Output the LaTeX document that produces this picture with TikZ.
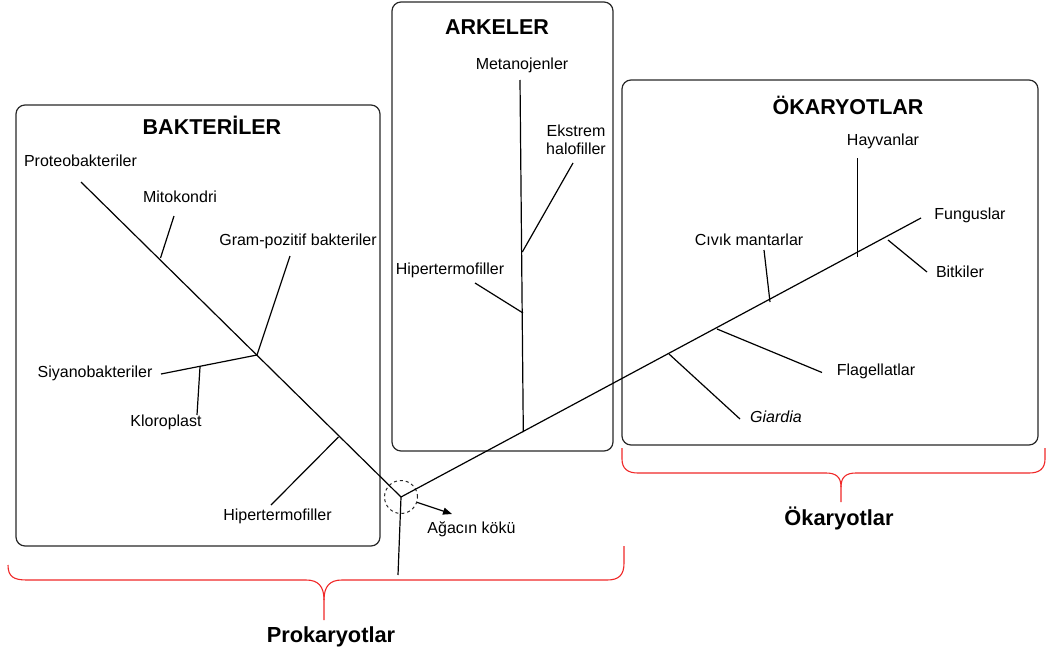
\documentclass[tikz,border=0pt]{standalone}
\usepackage{fontspec}
\setmainfont{Liberation Sans}
\usetikzlibrary{arrows.meta}
\begin{document}
\begin{tikzpicture}[x=1pt,y=-1pt,
  box/.style={draw={rgb,255:red,40;green,40;blue,40}, line width=1.2pt, rounded corners=9pt, inner sep=0pt},
  br/.style={draw=black, line width=1.2pt},
  lbl/.style={font=\fontsize{16}{18.5}\selectfont, inner sep=0pt, text height=11.7pt, text depth=3.3pt},
  ttl/.style={font=\fontsize{21.5}{25}\selectfont\bfseries, inner sep=0pt, text height=15.5pt, text depth=0pt},
  grp/.style={font=\fontsize{21.8}{25}\selectfont\bfseries, inner sep=0pt, text height=15.5pt, text depth=4.5pt},
  brace/.style={draw={rgb,255:red,240;green,40;blue,40}, line width=1.1pt},
  rootc/.style={draw={rgb,255:red,40;green,40;blue,40}, dashed, line width=1pt, circle, minimum size=33pt, inner sep=0pt}]
\useasboundingbox (0,0) rectangle (1046,656);

% boxes
\node[box, minimum width=364pt, minimum height=441pt] (bbox) at (198,325.5) {};
\node[box, minimum width=221pt, minimum height=449pt] (abox) at (502.5,226.5) {};
\node[box, minimum width=416pt, minimum height=365pt] (ebox) at (830,262.5) {};

% titles
\node[ttl] (tb) at (212,127) {BAKTERİLER};
\node[ttl] (ta) at (497,27) {ARKELER};
\node[ttl] (te) at (848,107) {ÖKARYOTLAR};

% root
\node[rootc] (root) at (401,497) {};

% branch points
\coordinate (proto) at (81,182);
\coordinate (mitoB) at (160.5,258);
\coordinate (mitoE) at (174,216);
\coordinate (gramB) at (257,355);
\coordinate (gramE) at (290,256);
\coordinate (siyE) at (161,374);
\coordinate (kloB) at (200,367);
\coordinate (kloE) at (197,415);
\coordinate (hbB) at (338.5,437);
\coordinate (hbE) at (271,505);
\coordinate (rootE) at (398,575);
\coordinate (arrE) at (452,514);
\coordinate (fung) at (921,218);
\coordinate (arB) at (523.3,432);
\coordinate (metE) at (520,80);
\coordinate (ekB) at (522.3,252);
\coordinate (ekE) at (573,163);
\coordinate (haB) at (523,313);
\coordinate (haE) at (475,283);
\coordinate (giB) at (669,354);
\coordinate (giE) at (740,419);
\coordinate (flB) at (717,329);
\coordinate (flE) at (822,372.5);
\coordinate (cvB) at (770,302);
\coordinate (cvE) at (764,250);
\coordinate (hyB) at (857.6,257);
\coordinate (hyE) at (857.6,158);
\coordinate (btB) at (888,240);
\coordinate (btE) at (927,272);

% tree
\draw[br] (root.center) -- (proto);
\draw[br] (mitoB) -- (mitoE);
\draw[br] (gramB) -- (gramE);
\draw[br] (gramB) -- (siyE);
\draw[br] (kloB) -- (kloE);
\draw[br] (hbB) -- (hbE);
\draw[br] (root.center) -- (rootE);
\draw[br, -{Triangle[length=9pt,width=7pt]}] (root) -- (arrE);
\draw[br] (root.center) -- (fung);
\draw[br] (arB) -- (metE);
\draw[br] (ekB) -- (ekE);
\draw[br] (haB) -- (haE);
\draw[br] (giB) -- (giE);
\draw[br] (flB) -- (flE);
\draw[br] (cvB) -- (cvE);
\draw[br] (hyB) -- (hyE);
\draw[br] (btB) -- (btE);

% labels
\node[lbl] (lproto) at (80.5,162) {Proteobakteriler};
\node[lbl] (lmito) at (180,198) {Mitokondri};
\node[lbl] (lgram) at (298,241) {Gram-pozitif bakteriler};
\node[lbl] (lsiy) at (95,373) {Siyanobakteriler};
\node[lbl] (lklo) at (166,422) {Kloroplast};
\node[lbl] (lhb) at (277.5,516) {Hipertermofiller};
\node[lbl] (lmet) at (522,65) {Metanojenler};
\node[lbl, align=center, text height=, text depth=] (lek) at (576,140) {Ekstrem\\halofiller};
\node[lbl] (lha) at (450,270) {Hipertermofiller};
\node[lbl] (lhy) at (883,141) {Hayvanlar};
\node[lbl] (lfu) at (970,215) {Funguslar};
\node[lbl] (lcv) at (749,241) {Cıvık mantarlar};
\node[lbl] (lbt) at (960,273) {Bitkiler};
\node[lbl] (lfl) at (876,371) {Flagellatlar};
\node[lbl, font=\fontsize{16}{18.5}\selectfont\itshape] (lgi) at (776,418) {Giardia};
\node[lbl] (lroot) at (471.5,529) {Ağacın kökü};

% braces
\coordinate (pL) at (8,565);
\coordinate (pC) at (324,600);
\coordinate (pS) at (324,620);
\coordinate (pR) at (624,546);
\draw[brace] (pL) .. controls (8,577) and (14,580) .. (27,580) -- (306,580)
  .. controls (318,580) and (324,586) .. (pC) -- (pS);
\draw[brace] (pC) .. controls (324,586) and (330,580) .. (342,580) -- (607,580)
  .. controls (619,580) and (624,575) .. (624,563) -- (pR);
\node[grp] (lpro) at (331,637) {Prokaryotlar};

\coordinate (eL) at (622,448);
\coordinate (eC) at (841,487);
\coordinate (eS) at (841,502);
\coordinate (eR) at (1045,448);
\draw[brace] (eL) -- (622,459) .. controls (622,469) and (628,473) .. (638,473) -- (826,473)
  .. controls (836,473) and (841,477) .. (eC) -- (eS);
\draw[brace] (eC) .. controls (841,477) and (846,473) .. (856,473) -- (1029,473)
  .. controls (1039,473) and (1045,469) .. (1045,459) -- (eR);
\node[grp] (leu) at (839,520) {Ökaryotlar};
\end{tikzpicture}
\end{document}
